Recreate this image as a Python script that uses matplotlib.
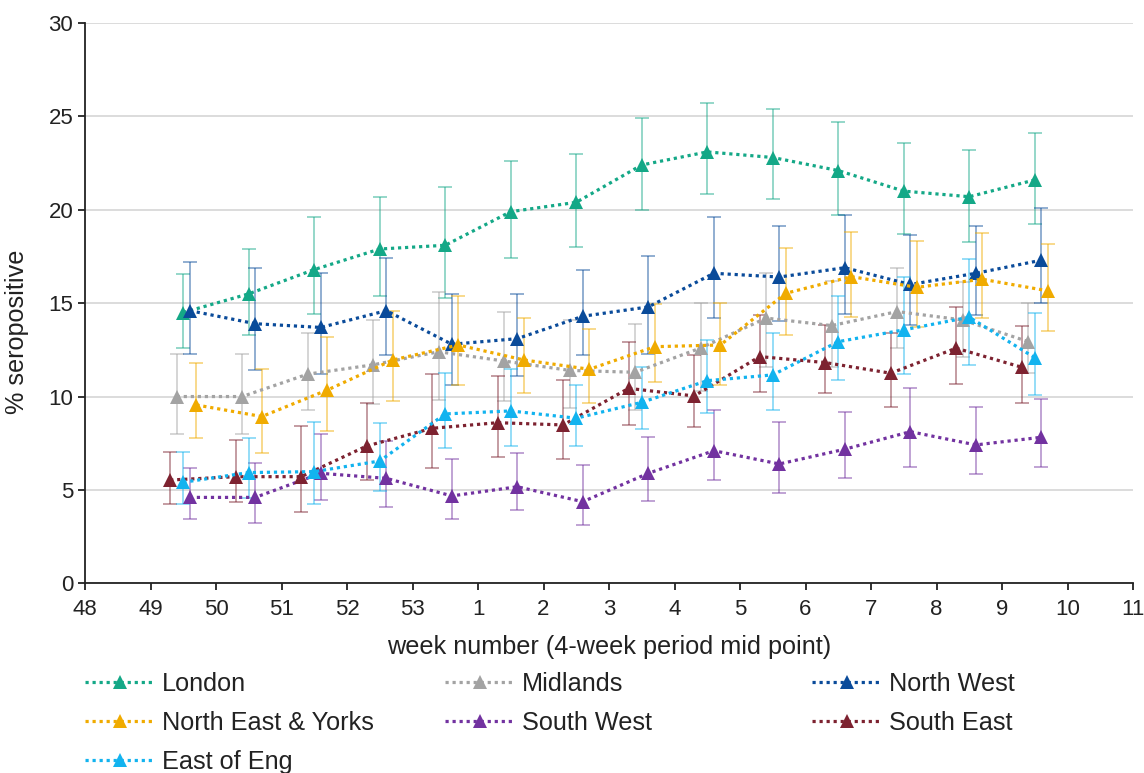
import matplotlib
matplotlib.use("Agg")
import matplotlib.pyplot as plt
import numpy as np

plt.rcParams['font.family'] = ['Liberation Sans', 'DejaVu Sans']

# week tick labels (axis runs 48 .. 11 across the year end)
week_labels = ["48", "49", "50", "51", "52", "53", "1", "2", "3", "4", "5", "6", "7", "8", "9", "10", "11"]

# centre of each 4-week period on the axis (in tick units, 48 = 0)
period_x = [1.5, 2.5, 3.5, 4.5, 5.5, 6.5, 7.5, 8.5, 9.5, 10.5, 11.5, 12.5, 13.5, 14.5]

regions = ["London", "Midlands", "North West", "North East & Yorks", "South West", "South East", "East of Eng"]

london = [14.5, 15.5, 16.8, 17.9, 18.1, 19.9, 20.4, 22.4, 23.1, 22.8, 22.1, 21.0, 20.7, 21.6]
london_hi = [16.55, 17.9, 19.6, 20.7, 21.2, 22.6, 23.0, 24.9, 25.7, 25.4, 24.7, 23.6, 23.2, 24.1]
london_lo = [12.6, 13.3, 14.4, 15.4, 15.3, 17.4, 18.0, 20.0, 20.85, 20.6, 19.7, 18.7, 18.3, 19.25]

midlands = [10.0, 10.0, 11.2, 11.7, 12.4, 11.9, 11.4, 11.3, 12.6, 14.2, 13.8, 14.55, 14.1, 12.94]
midlands_hi = [12.3, 12.3, 13.4, 14.1, 15.6, 14.55, 14.1, 13.9, 15.0, 16.6, 16.2, 16.9, 16.15, 15.03]
midlands_lo = [8.0, 8.0, 9.3, 9.6, 9.8, 9.78, 9.37, 9.28, 10.3, 11.6, 11.6, 12.59, 12.14, 11.28]

north_west = [14.6, 13.9, 13.7, 14.6, 12.8, 13.1, 14.3, 14.8, 16.6, 16.4, 16.9, 16.0, 16.6, 17.3]
north_west_hi = [17.2, 16.9, 16.6, 17.4, 15.5, 15.5, 16.8, 17.5, 19.6, 19.15, 19.7, 18.66, 19.15, 20.09]
north_west_lo = [12.3, 11.4, 11.2, 12.2, 10.6, 11.1, 12.2, 12.3, 14.2, 14.07, 14.4, 13.84, 14.37, 15.03]

ne_yorks = [9.55, 8.93, 10.35, 11.96, 12.76, 11.96, 11.46, 12.67, 12.76, 15.53, 16.42, 15.85, 16.28, 15.66]
ne_yorks_hi = [11.78, 11.48, 13.2, 14.6, 15.4, 14.2, 13.6, 14.96, 15.0, 17.94, 18.8, 18.35, 18.75, 18.16]
ne_yorks_lo = [7.77, 6.96, 8.16, 9.76, 10.6, 10.2, 9.67, 10.8, 10.6, 13.3, 14.25, 13.75, 14.2, 13.5]

south_west = [4.6, 4.6, 5.89, 5.62, 4.68, 5.17, 4.37, 5.89, 7.1, 6.39, 7.18, 8.12, 7.41, 7.82]
south_west_hi = [6.16, 6.43, 7.98, 7.64, 6.66, 6.96, 6.34, 7.85, 9.28, 8.66, 9.16, 10.48, 9.46, 9.87]
south_west_lo = [3.43, 3.21, 4.46, 4.09, 3.43, 3.93, 3.12, 4.42, 5.53, 4.82, 5.66, 6.25, 5.84, 6.25]

south_east = [5.53, 5.71, 5.71, 7.35, 8.3, 8.6, 8.48, 10.44, 10.03, 12.14, 11.82, 11.25, 12.59, 11.57]
south_east_hi = [7.05, 7.68, 8.44, 9.67, 11.2, 11.1, 10.9, 12.9, 12.2, 14.37, 13.83, 13.4, 14.8, 13.8]
south_east_lo = [4.23, 4.34, 3.82, 5.53, 6.16, 6.75, 6.66, 8.48, 8.39, 10.26, 10.2, 9.46, 10.67, 9.67]

east_eng = [5.41, 5.93, 5.98, 6.55, 9.07, 9.23, 8.84, 9.69, 10.85, 11.16, 12.94, 13.57, 14.25, 12.08]
east_eng_hi = [7.05, 7.77, 8.66, 8.57, 11.28, 11.5, 10.6, 11.57, 13.03, 13.4, 15.4, 16.4, 17.36, 14.5]
east_eng_lo = [4.23, 4.55, 4.23, 4.94, 7.26, 7.35, 7.35, 8.25, 9.1, 9.3, 10.9, 11.2, 11.7, 10.09]

series = [
    (london, london_lo, london_hi),
    (midlands, midlands_lo, midlands_hi),
    (north_west, north_west_lo, north_west_hi),
    (ne_yorks, ne_yorks_lo, ne_yorks_hi),
    (south_west, south_west_lo, south_west_hi),
    (south_east, south_east_lo, south_east_hi),
    (east_eng, east_eng_lo, east_eng_hi),
]

# small horizontal shift so the error bars don't sit on top of each other
offsets = [0.0, -0.10, 0.10, 0.20, 0.10, -0.20, 0.0]
colors = ["#14a887", "#a3a3a3", "#0a4b9a", "#f0ab00", "#7232a0", "#7d2230", "#12b3ef"]

fig = plt.figure(figsize=(11.44, 7.73), dpi=100)
ax = fig.add_axes([0.0743, 0.2454, 0.9161, 0.7248])

handles = {}
for name, (vals, lo, hi), off, col in zip(regions, series, offsets, colors):
    x = np.array(period_x) + off
    v = np.array(vals)
    yerr = [v - np.array(lo), np.array(hi) - v]
    ax.errorbar(x, v, yerr=yerr, fmt="none", ecolor=col, alpha=0.45,
                elinewidth=1.4, capsize=5, capthick=1.4, zorder=2)
    line, = ax.plot(x, v, linestyle=(0, (1, 1.2)), linewidth=2.3, color=col,
                    marker="^", markersize=10, markeredgewidth=0, zorder=3)
    handles[name] = line

ax.set_xlim(0, 16)
ax.set_ylim(0, 30)
ax.set_xticks(range(17))
ax.set_xticklabels(week_labels)
ax.set_yticks(range(0, 31, 5))

ax.yaxis.grid(True, color="#d9d9d9", linewidth=1.3)
ax.set_axisbelow(True)
for s in ["top", "right"]:
    ax.spines[s].set_visible(False)
for s in ["left", "bottom"]:
    ax.spines[s].set_color("#222222")
    ax.spines[s].set_linewidth(1.3)
ax.tick_params(axis="both", labelsize=16, length=5, width=1.3, color="#222222", labelcolor="#222222")
ax.tick_params(axis="x", pad=6)

ax.set_xlabel("week number (4-week period mid point)", fontsize=18.2, color="#222222", labelpad=11)
ax.set_ylabel("% seropositive", fontsize=18.2, color="#222222")
ax.yaxis.set_label_coords(-0.053, 0.449)

# Excel-style legend: 3 equal-width columns
columns = [["London", "North East & Yorks", "East of Eng"],
           ["Midlands", "South West"],
           ["North West", "South East"]]
col_left = [85, 445, 812]
for names, xl in zip(columns, col_left):
    leg = fig.legend([handles[n] for n in names], names,
                     loc="upper left", bbox_to_anchor=(xl / 1144, 1 - 672 / 773),
                     frameon=False, fontsize=18.2, handlelength=2.75, handletextpad=0.3,
                     labelspacing=0.6, borderpad=0, borderaxespad=0)
    for t in leg.get_texts():
        t.set_color("#222222")

fig.savefig("out.png", dpi=100)
